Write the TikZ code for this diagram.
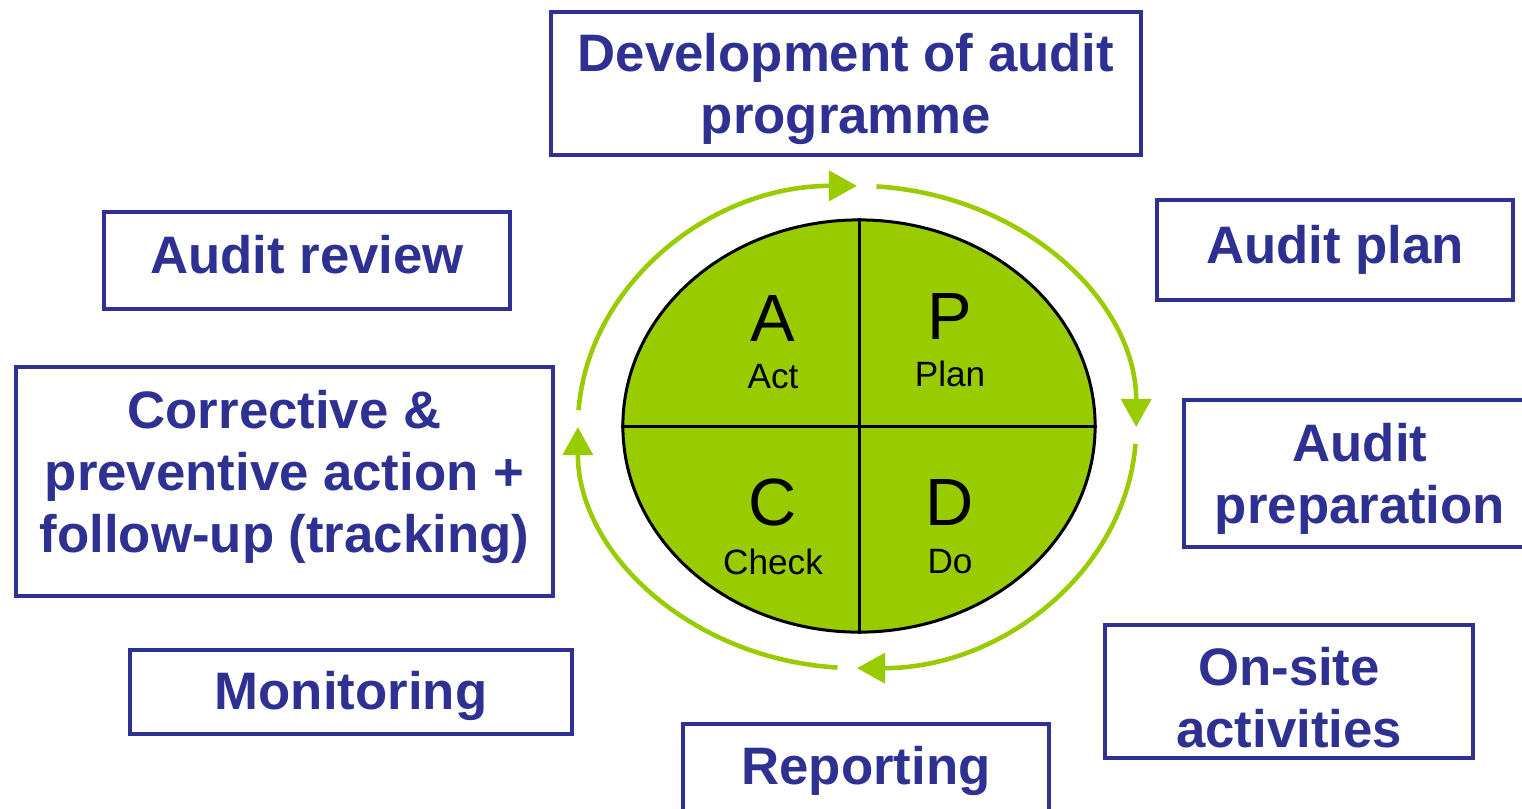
\documentclass[tikz,border=0pt]{standalone}
\usepackage{fontspec}
\setmainfont{Liberation Sans}
\usetikzlibrary{arrows.meta,shapes.geometric}
\definecolor{auditblue}{RGB}{46,49,146}
\definecolor{pdcagreen}{RGB}{153,204,0}
\begin{document}
\begin{tikzpicture}[x=0.01cm, y=0.01cm,
    box/.style={draw=auditblue, line width=1.2pt, text=auditblue, align=center, inner sep=0pt,
      font=\bfseries\fontsize{15}{17.6}\selectfont},
    ring/.style={pdcagreen, line width=1.3pt, -{Triangle[length=8pt,width=8.5pt]}},
    big/.style={font=\fontsize{19}{19}\selectfont},
    small/.style={font=\fontsize{10}{10}\selectfont}] % coordinate in pixel
  \def\rx{2.79cm}
  \def\ry{2.41cm}
  \clip (0,0) rectangle (1522,-808);

  % ciclo PDCA
  \node[ellipse, draw, line width=0.85pt, fill=pdcagreen, inner sep=0pt,
    minimum width=4.72cm, minimum height=4.12cm] (pdca) at (859,-426) {};
  \draw[line width=0.85pt] (pdca.north) -- (pdca.south);
  \draw[line width=0.85pt] (pdca.west) -- (pdca.east);

  \node[big] (A) at (773,-318) {A};
  \node[small] (act) at (773,-377) {Act};
  \node[big] (P) at (950,-316) {P};
  \node[small] (plan) at (950,-374) {Plan};
  \node[big] (C) at (773,-502) {C};
  \node[small] (check) at (773,-562) {Check};
  \node[big] (D) at (950,-502) {D};
  \node[small] (do) at (950,-562) {Do};

  \coordinate (ring) at (857,-427);
  \foreach \s/\e in {176/90, 86/0, -4/-90, -94/-180}
    \draw[ring] ([shift={(\s:2.79cm and 2.41cm)}]ring) arc[start angle=\s, end angle=\e, x radius=\rx, y radius=\ry];

  % riquadri
  \node[box, minimum width=5.90cm, minimum height=1.43cm, text depth=0pt] (devel) at (846,-83.5) {Development of audit\\programme};
  \node[box, minimum width=3.56cm, minimum height=1.00cm] (auplan) at (1335,-250) {Audit plan};
  \node[box, minimum width=3.52cm, minimum height=1.47cm, text depth=0pt] (prep) at (1360,-473.5) {Audit\\preparation};
  \node[box, minimum width=3.68cm, minimum height=1.33cm, text height=32pt] (onsite) at (1289,-691.5) {On-site\\activities};
  \node[box, minimum width=3.66cm, minimum height=0.88cm, text depth=1.4pt] (report) at (866,-768) {Reporting};
  \node[box, minimum width=4.42cm, minimum height=0.84cm, text depth=0.9pt] (monit) at (351,-692) {Monitoring};
  \node[box, minimum width=5.37cm, minimum height=2.29cm, text depth=5.9pt] (correct) at (284.5,-481.5) {Corrective \&\\preventive action +\\follow-up (tracking)};
  \node[box, minimum width=4.06cm, minimum height=0.97cm, text depth=3.4pt] (review) at (307,-260.5) {Audit review};
\end{tikzpicture}
\end{document}
